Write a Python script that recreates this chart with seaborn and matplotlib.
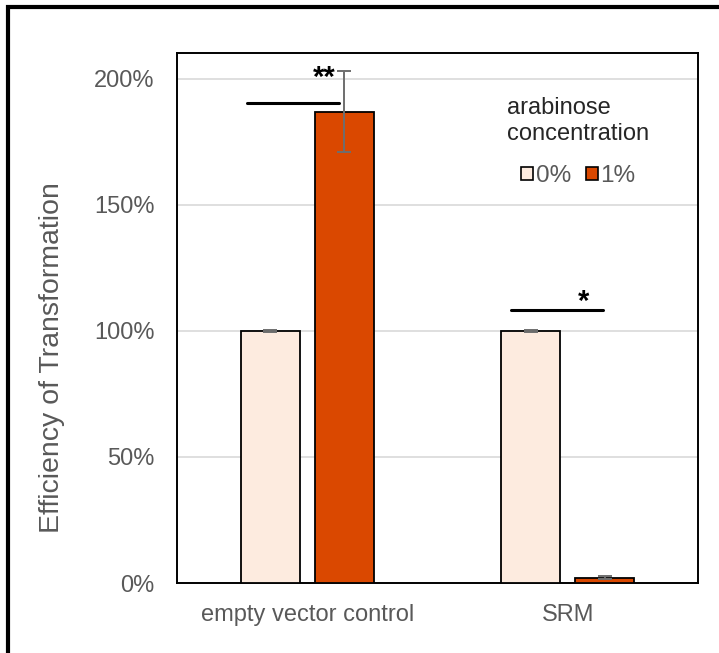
import pandas as pd
import numpy as np
import matplotlib
matplotlib.use('Agg')
import matplotlib.pyplot as plt
import seaborn as sns
from matplotlib.patches import Rectangle
from matplotlib.ticker import PercentFormatter

sns.set_theme(style='white')
plt.rcParams['font.family'] = ['Liberation Sans', 'DejaVu Sans']

groups = ['empty vector control', 'SRM']
concentrations = ['0%', '1%']
eff_0 = [100, 100]
eff_1 = [187, 2.1]
err_0 = [0.3, 0.3]
err_1 = [16, 0.7]
sig_labels = ['**', '*']
bar_colors = ['#FDEBDF', '#DA4800']

df = pd.DataFrame({
    'group': groups * 2,
    'conc': [concentrations[0]] * 2 + [concentrations[1]] * 2,
    'eff': eff_0 + eff_1,
})
errs = {concentrations[0]: err_0, concentrations[1]: err_1}

fig = plt.figure(figsize=(7.19, 6.53), dpi=100)
ax = fig.add_axes([177 / 719, 1 - 583 / 653, 521 / 719, 530 / 653])

sns.barplot(data=df, x='group', y='eff', hue='conc', palette=bar_colors,
            saturation=1, width=0.569, gap=0.2, edgecolor='black', linewidth=1.3,
            errorbar=None, ax=ax, zorder=3)

# error bars at the centres of the bars seaborn drew
for cont, conc in zip(ax.containers, concentrations):
    xs = [p.get_x() + p.get_width() / 2 for p in cont.patches]
    hs = [p.get_height() for p in cont.patches]
    ax.errorbar(xs, hs, yerr=errs[conc], fmt='none', ecolor='#6E6E6E',
                elinewidth=1.4, capsize=5, capthick=1.4, zorder=4)

ax.set_ylim(0, 210.3)
ax.set_xlim(-0.5, 1.5)
ax.set_yticks([0, 50, 100, 150, 200])
ax.yaxis.set_major_formatter(PercentFormatter(decimals=0))
ax.grid(axis='y', color='#D9D9D9', linewidth=1.2, zorder=0)
ax.set_axisbelow(True)
for s in ax.spines.values():
    s.set_color('black')
    s.set_linewidth(1.4)
ax.tick_params(axis='y', length=0, pad=16, labelsize=17, labelcolor='#595959')
ax.tick_params(axis='x', length=0, pad=15, labelsize=17, labelcolor='#595959')
ax.set_xlabel('')
ax.set_ylabel('Efficiency of Transformation', fontsize=20.5, color='#595959')
ax.yaxis.set_label_coords(-0.215, 0.426)

# significance marks
sig_lines = [(-0.233, 0.12, 190.5), (0.783, 1.137, 108.3)]
sig_text = [(0.065, 206), (1.062, 117)]
for (x0, x1, y), (tx, ty), lab in zip(sig_lines, sig_text, sig_labels):
    ax.plot([x0, x1], [y, y], color='black', linewidth=2.2, zorder=5)
    ax.text(tx, ty, lab, ha='center', va='top', fontsize=21, fontweight='bold',
            color='black', zorder=5)

leg = ax.legend(title='arabinose\nconcentration', loc='upper center',
                bbox_to_anchor=(0.77, 0.958), ncol=2, frameon=False,
                handlelength=0.5, handleheight=0.5, handletextpad=0.12,
                columnspacing=0.6, labelspacing=0.85, fontsize=17.5, title_fontsize=17)
leg.get_title().set_multialignment('left')
for t in leg.get_texts():
    t.set_color('#595959')
for h in leg.legend_handles:
    h.set_edgecolor('black')
    h.set_linewidth(1.2)

fig.patches.append(Rectangle((8 / 719, -0.2), 1.5, 1.2 - 7 / 653,
                             transform=fig.transFigure, fill=False,
                             edgecolor='black', linewidth=3, clip_on=False))

fig.savefig('out.png', dpi=100, facecolor='white')
